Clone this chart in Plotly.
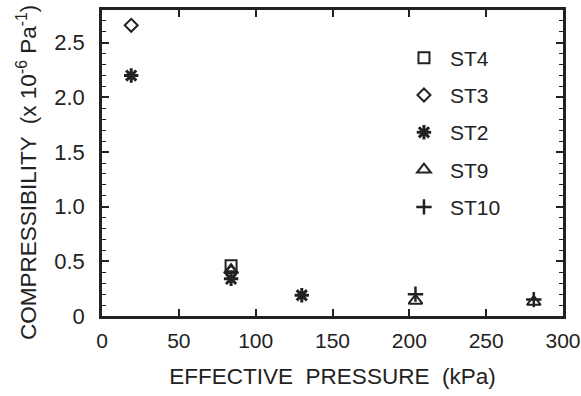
import plotly.graph_objects as go

names = ["ST4", "ST3", "ST2", "ST9", "ST10"]
xs = {
    "ST4": [84],
    "ST3": [19, 84],
    "ST2": [19, 84, 130],
    "ST9": [84, 204, 281],
    "ST10": [204, 281],
}
ys = {
    "ST4": [0.46],
    "ST3": [2.66, 0.40],
    "ST2": [2.20, 0.34, 0.19],
    "ST9": [0.42, 0.14, 0.13],
    "ST10": [0.20, 0.15],
}
symbols = {
    "ST4": "square-open",
    "ST3": "diamond-open",
    "ST2": "asterisk-open",
    "ST9": "triangle-up-open",
    "ST10": "cross-thin-open",
}
sizes = {"ST4": 11, "ST3": 10, "ST2": 12, "ST9": 12, "ST10": 11}
widths = {"ST4": 2, "ST3": 2, "ST2": 3, "ST9": 2, "ST10": 2.5}

x_ticks = [0, 50, 100, 150, 200, 250, 300]
y_ticks = [0, 0.5, 1.0, 1.5, 2.0, 2.5]
y_ticktext = ["0", "0.5", "1.0", "1.5", "2.0", "2.5"]

font = "Liberation Sans, Arial, sans-serif"

fig = go.Figure()
for n in names:
    fig.add_trace(go.Scatter(
        x=xs[n], y=ys[n], mode="markers", name=n, legendgroup=n,
        marker=dict(symbol=symbols[n], size=sizes[n], color="#222",
                    line=dict(width=widths[n], color="#222")),
    ))

fig.update_layout(
    width=581, height=396,
    margin=dict(l=102, r=18, t=10, b=80),
    paper_bgcolor="white", plot_bgcolor="white",
    font=dict(family=font, size=21, color="#222"),
    showlegend=True,
    legend=dict(x=0.642, y=0.91, xanchor="left", yanchor="top",
                bgcolor="rgba(0,0,0,0)", font=dict(size=21),
                tracegroupgap=7, itemwidth=42),
    xaxis=dict(range=[0, 300], tickvals=x_ticks, ticks="inside", ticklen=7,
               tickwidth=1.5, tickcolor="#222", showline=True, linewidth=2.5,
               linecolor="#222", mirror="ticks", showgrid=False, zeroline=False,
               automargin=False, ticklabelstandoff=4,
               title=dict(text="EFFECTIVE  PRESSURE  (kPa)", font=dict(size=22.5), standoff=18),
               tickfont=dict(size=21)),
    yaxis=dict(range=[0, 2.8], tickvals=y_ticks, ticktext=y_ticktext, ticks="inside",
               ticklen=7, tickwidth=1.5, tickcolor="#222", showline=True, linewidth=2.5,
               linecolor="#222", mirror="ticks", showgrid=False, zeroline=False,
               automargin=False, ticklabelstandoff=10,
               minor=dict(dtick=0.1, ticks="inside", ticklen=4, tickwidth=1, tickcolor="#222"),
               tickfont=dict(size=22)),
    annotations=[dict(
        text="COMPRESSIBILITY  (x 10<sup>-6</sup> Pa<sup>-1</sup>)",
        xref="paper", yref="paper", x=-0.163, y=0.47, xanchor="center", yanchor="middle",
        textangle=-90, showarrow=False, font=dict(size=22.5, family=font, color="#222"),
    )],
)

fig.write_html("out.html", config={"displayModeBar": False},
               post_script="document.body.style.margin='0';")
